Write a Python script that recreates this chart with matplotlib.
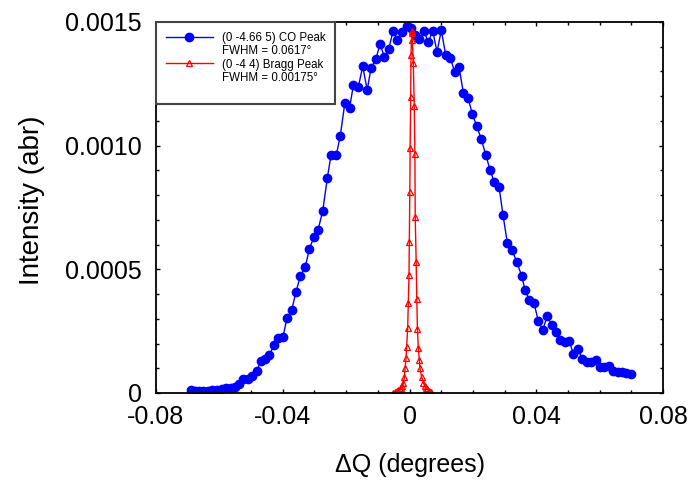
import matplotlib
matplotlib.use('Agg')
import matplotlib.pyplot as plt
from matplotlib.lines import Line2D
from matplotlib.ticker import MultipleLocator

plt.rcParams['font.family'] = ['Liberation Sans', 'DejaVu Sans']

# (0 -4.66 5) CO peak
co_x = [-0.06904, -0.06769, -0.06633, -0.06507, -0.06368, -0.06223, -0.06084, -0.05926, -0.05790, -0.05642,
        -0.05506, -0.05371, -0.05245, -0.05106, -0.04970, -0.04822, -0.04695, -0.04569, -0.04434, -0.04266,
        -0.04140, -0.03992, -0.03866, -0.03717, -0.03582, -0.03446, -0.03288, -0.03162, -0.03023, -0.02887,
        -0.02739, -0.02594, -0.02477, -0.02310, -0.02184, -0.02042, -0.01893, -0.01773, -0.01616, -0.01477,
        -0.01335, -0.01215, -0.01067, -0.00931, -0.00795, -0.00656, -0.00521, -0.00379, -0.00237, -0.00088,
        0.00047, 0.00174, 0.00309, 0.00458, 0.00593, 0.00732, 0.00868, 0.01003, 0.01142, 0.01287,
        0.01426, 0.01562, 0.01698, 0.01846, 0.01982, 0.02121, 0.02266, 0.02405, 0.02540, 0.02676,
        0.02824, 0.02950, 0.03086, 0.03234, 0.03383, 0.03541, 0.03645, 0.03780, 0.03929, 0.04064,
        0.04203, 0.04348, 0.04487, 0.04623, 0.04759, 0.04897, 0.05043, 0.05169, 0.05308, 0.05453,
        0.05592, 0.05727, 0.05876, 0.06011, 0.06147, 0.06286, 0.06422, 0.06570, 0.06706, 0.06841,
        0.06990]
co_y = [0.0000121, 0.0000081, 0.0000081, 0.0000093, 0.0000093, 0.0000109, 0.0000121, 0.0000150, 0.0000190, 0.0000190,
        0.0000255, 0.0000376, 0.0000566, 0.0000566, 0.0000699, 0.0000877, 0.0001282, 0.0001362, 0.0001524, 0.0001941,
        0.0002211, 0.0002276, 0.0003020, 0.0003356, 0.0004096, 0.0004710, 0.0005106, 0.0005810, 0.0006295, 0.0006590,
        0.0007358, 0.0008680, 0.0009622, 0.0009622, 0.0010403, 0.0011713, 0.0011510, 0.0012432, 0.0012372, 0.0013200,
        0.0012250, 0.0013127, 0.0013483, 0.0014102, 0.0013597, 0.0013896, 0.0014628, 0.0014272, 0.0014595, 0.0014838,
        0.0014745, 0.0014474, 0.0014300, 0.0014636, 0.0014179, 0.0014648, 0.0013787, 0.0014664, 0.0013665, 0.0013556,
        0.0012978, 0.0013192, 0.0012141, 0.0011939, 0.0011280, 0.0010795, 0.0010257, 0.0009634, 0.0009028, 0.0008519,
        0.0008341, 0.0007197, 0.0006077, 0.0005781, 0.0005308, 0.0004730, 0.0004164, 0.0003760, 0.0003627, 0.0002923,
        0.0002547, 0.0003113, 0.0002737, 0.0002478, 0.0002143, 0.0002050, 0.0002115, 0.0001577, 0.0001779, 0.0001375,
        0.0001265, 0.0001265, 0.0001322, 0.0001063, 0.0001063, 0.0001104, 0.0000889, 0.0000861, 0.0000849, 0.0000809,
        0.0000780]

# (0 -4 4) Bragg peak
bragg_x = [-0.0051, -0.0047, -0.0043, -0.0039, -0.0035, -0.0031, -0.0027, -0.0023, -0.0019, -0.0016,
           -0.0014, -0.0011, -0.0009, -0.00058, -0.00038, -0.00016, -0.00006, 0.00010, 0.00020, 0.00038,
           0.00047, 0.0007, 0.0008, 0.0009, 0.0012, 0.0015, 0.0017, 0.0018, 0.0021, 0.0023,
           0.0025, 0.0028, 0.0031, 0.0033, 0.0038, 0.0044, 0.0048, 0.0052, 0.0056, 0.0060,
           0.0064, 0.0068]
bragg_y = [0.000002, 0.000003, 0.000005, 0.000008, 0.000012, 0.000016, 0.000022, 0.000030, 0.000040, 0.000066,
           0.000100, 0.000140, 0.000187, 0.000262, 0.000363, 0.000477, 0.000612, 0.000814, 0.000992, 0.001198,
           0.001367, 0.001456, 0.001465, 0.001427, 0.001333, 0.001160, 0.000966, 0.000713, 0.000530, 0.000380,
           0.000260, 0.000180, 0.000133, 0.000100, 0.000066, 0.000040, 0.000030, 0.000020, 0.000015, 0.000010,
           0.000006, 0.000004]

xticks = [-0.08, -0.04, 0, 0.04, 0.08]
xtick_labels = ['-0.08', '-0.04', '0', '0.04', '0.08']
yticks = [0, 0.0005, 0.0010, 0.0015]
ytick_labels = ['0', '0.0005', '0.0010', '0.0015']

fig = plt.figure(figsize=(6.89, 4.80), dpi=100)
ax = fig.add_axes([0.2264, 0.18125, 0.7359, 0.7730])

ax.plot(co_x, co_y, '-o', color='#0000ff', lw=1, ms=6)
ax.plot(bragg_x, bragg_y, '-^', color='#ff0000', lw=1, ms=5, mfc='none', mew=0.9)

ax.set_xlim(-0.08, 0.08)
ax.set_ylim(0, 0.0015)
ax.set_xticks(xticks)
ax.set_xticklabels(xtick_labels)
ax.set_yticks(yticks)
ax.set_yticklabels(ytick_labels)
ax.xaxis.set_minor_locator(MultipleLocator(0.01))
ax.yaxis.set_minor_locator(MultipleLocator(0.0001))
ax.tick_params(which='both', direction='in', top=True, right=True, labelsize=18, width=1)
ax.tick_params(which='major', length=3)
ax.tick_params(which='minor', length=2)
ax.tick_params(axis='x', which='major', pad=9)
ax.tick_params(axis='y', which='major', pad=10)
for s in ax.spines.values():
    s.set_linewidth(1.3)

ax.set_xlabel('ΔQ (degrees)', fontsize=18, labelpad=17)
ax.set_ylabel('Intensity (abr)', fontsize=20)
ax.yaxis.set_label_coords(-0.218, 0.52)

# legend: handle on the first line, FWHM on the second
blank = Line2D([], [], linestyle='none')
handles = [
    Line2D([], [], color='#0000ff', marker='o', lw=1, ms=6),
    blank,
    Line2D([], [], color='#ff0000', marker='^', lw=1, ms=5, mfc='none', mew=0.9),
    blank,
    blank,
]
labels = ['(0 -4.66 5) CO Peak', 'FWHM = 0.0617°', '(0 -4 4) Bragg Peak', 'FWHM = 0.00175°', ' ']
leg = ax.legend(handles, labels, loc='upper left', fontsize=8.3, handlelength=4.1,
                handletextpad=0.75, labelspacing=0.12, borderaxespad=0, borderpad=0.85,
                fancybox=False, framealpha=1)
leg.get_texts()[-1].set_fontsize(4)
leg.get_frame().set_edgecolor('#444444')
leg.get_frame().set_linewidth(1.5)

fig.savefig('out.png', dpi=100)
